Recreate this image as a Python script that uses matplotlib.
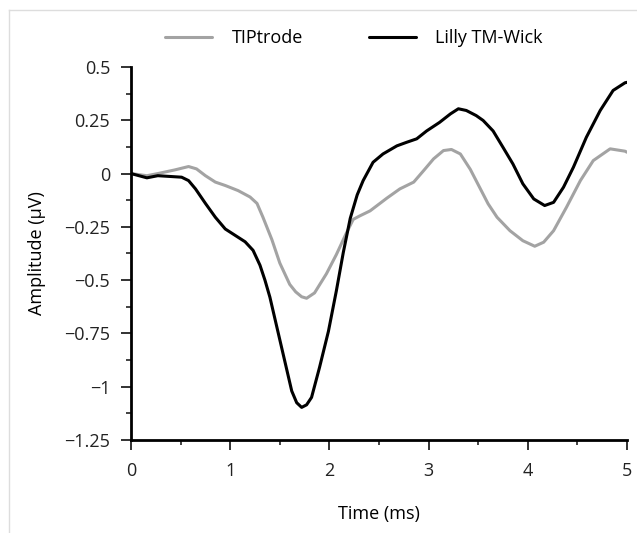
import numpy as np
import matplotlib
matplotlib.use("Agg")
import matplotlib.pyplot as plt
from matplotlib.lines import Line2D
from matplotlib.ticker import MultipleLocator, FuncFormatter

plt.rcParams['font.family'] = ['Open Sans', 'DejaVu Sans']

# TIPtrode (gray) trace
tip_t = [0, 0.16, 0.27, 0.44, 0.58, 0.66, 0.75, 0.85, 0.95, 1.08, 1.2, 1.27, 1.33, 1.42,
         1.5, 1.6, 1.66, 1.72, 1.77, 1.85, 1.97, 2.07, 2.17, 2.24, 2.3, 2.41, 2.58, 2.71,
         2.85, 2.95, 3.05, 3.15, 3.23, 3.32, 3.42, 3.52, 3.6, 3.69, 3.82, 3.95, 4.07, 4.16,
         4.26, 4.39, 4.53, 4.66, 4.83, 4.98, 5.0]
tip_amp = [0, -0.01, 0, 0.017, 0.033, 0.022, -0.01, -0.04, -0.056, -0.08, -0.11, -0.14,
           -0.205, -0.31, -0.42, -0.52, -0.555, -0.578, -0.585, -0.56, -0.47, -0.38, -0.28,
           -0.215, -0.2, -0.175, -0.115, -0.072, -0.04, 0.014, 0.069, 0.108, 0.113, 0.092,
           0.02, -0.07, -0.142, -0.205, -0.268, -0.315, -0.341, -0.322, -0.268, -0.158,
           -0.033, 0.061, 0.116, 0.105, 0.1]

# Lilly TM-Wick (black) trace
wick_t = [0, 0.16, 0.27, 0.51, 0.58, 0.65, 0.75, 0.85, 0.95, 1.05, 1.15, 1.23, 1.3, 1.35,
          1.4, 1.47, 1.54, 1.62, 1.67, 1.72, 1.77, 1.82, 1.9, 1.99, 2.07, 2.14, 2.21, 2.28,
          2.34, 2.44, 2.54, 2.68, 2.78, 2.88, 2.98, 3.11, 3.22, 3.3, 3.38, 3.48, 3.55, 3.65,
          3.75, 3.85, 3.95, 4.06, 4.17, 4.26, 4.36, 4.46, 4.59, 4.73, 4.86, 4.98, 5.0]
wick_amp = [0, -0.02, -0.01, -0.017, -0.033, -0.072, -0.14, -0.205, -0.26, -0.29, -0.32,
            -0.36, -0.43, -0.5, -0.58, -0.72, -0.86, -1.02, -1.075, -1.097, -1.085, -1.05,
            -0.91, -0.74, -0.55, -0.37, -0.21, -0.1, -0.033, 0.053, 0.092, 0.13, 0.147,
            0.163, 0.2, 0.24, 0.28, 0.304, 0.296, 0.272, 0.249, 0.2, 0.123, 0.045, -0.048,
            -0.119, -0.15, -0.135, -0.064, 0.03, 0.17, 0.296, 0.39, 0.426, 0.428]

fig = plt.figure(figsize=(6.37, 5.33), dpi=100)
ax = fig.add_axes([0.2057, 0.1745, 0.7786, 0.6998])

ax.plot(tip_t, tip_amp, color='#a3a3a3', lw=2.2, solid_joinstyle='round',
        solid_capstyle='round', label='TIPtrode')
ax.plot(wick_t, wick_amp, color='black', lw=2.2, solid_joinstyle='round',
        solid_capstyle='round', label='Lilly TM-Wick')

ax.set_xlim(0, 5)
ax.set_ylim(-1.25, 0.5)
for s in ['top', 'right']:
    ax.spines[s].set_visible(False)
for s in ['left', 'bottom']:
    ax.spines[s].set_linewidth(2)

ax.xaxis.set_major_locator(MultipleLocator(1))
ax.xaxis.set_minor_locator(MultipleLocator(0.5))
ax.yaxis.set_major_locator(MultipleLocator(0.25))
ax.yaxis.set_minor_locator(MultipleLocator(0.125))

def fmt(v, pos):
    s = ('%.2f' % v).rstrip('0').rstrip('.')
    if s in ('-0', '0'):
        return '0'
    return s.replace('-', '\u2212')

ax.yaxis.set_major_formatter(FuncFormatter(fmt))
ax.xaxis.set_major_formatter(FuncFormatter(fmt))
ax.tick_params(which='major', length=7, width=1.3, labelsize=13, colors='#222222')
ax.tick_params(axis='x', which='major', pad=9)
ax.tick_params(axis='y', which='major', pad=8)
ax.tick_params(which='minor', length=3.5, width=1.2, colors='#222222')

ax.set_xlabel('Time (ms)', fontsize=13, labelpad=18)
ax.set_ylabel('Amplitude (\u00b5V)', fontsize=13, labelpad=13)

fig.legend(loc='center', bbox_to_anchor=(0.556, 0.929), ncol=2, frameon=False,
           fontsize=13, handlelength=2.6, handletextpad=1.1, columnspacing=3.6)

# light frame around the panel
fig.add_artist(Line2D([9 / 637, 1], [1 - 10 / 533, 1 - 10 / 533], color='#dddddd', lw=1))
fig.add_artist(Line2D([9 / 637, 9 / 637], [0, 1 - 10 / 533], color='#dddddd', lw=1))

fig.savefig('out.png', dpi=100)
